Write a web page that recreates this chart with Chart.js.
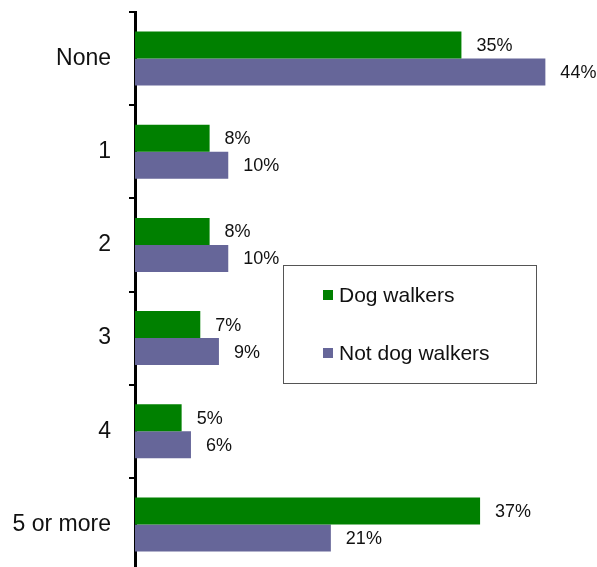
<!DOCTYPE html>
<html>
<head>
<meta charset="utf-8">
<script src="https://cdn.jsdelivr.net/npm/chart.js@4"></script>
<style>
  html, body { margin: 0; padding: 0; background: #fff; overflow: hidden; }
  #wrap { width: 597px; height: 575px; position: relative; }
</style>
</head>
<body>
<div id="wrap"><canvas id="myChart"></canvas></div>
<script>
const categories = ['None', '1', '2', '3', '4', '5 or more'];
const dogWalkers = [35, 8, 8, 7, 5, 37];
const notDogWalkers = [44, 10, 10, 9, 6, 21];
const seriesNames = ['Dog walkers', 'Not dog walkers'];
const seriesColors = ['#008000', '#666699'];

const FONT = '"Liberation Sans", Arial, sans-serif';

// value labels to the right of every bar
const valueLabels = {
  id: 'valueLabels',
  afterDatasetsDraw(chart) {
    const ctx = chart.ctx;
    ctx.save();
    ctx.font = '18px ' + FONT;
    ctx.fillStyle = '#111';
    ctx.textAlign = 'left';
    ctx.textBaseline = 'middle';
    chart.data.datasets.forEach((ds, i) => {
      chart.getDatasetMeta(i).data.forEach((bar, j) => {
        ctx.fillText(ds.data[j] + '%', bar.x + 15, bar.y + 1);
      });
    });
    ctx.restore();
  }
};

// boxed legend sitting inside the plot
const boxLegend = {
  id: 'boxLegend',
  afterDraw(chart, args, opts) {
    const ctx = chart.ctx;
    ctx.save();
    ctx.fillStyle = '#fff';
    ctx.fillRect(opts.x, opts.y, opts.w, opts.h);
    ctx.strokeStyle = '#555';
    ctx.lineWidth = 1;
    ctx.strokeRect(opts.x + 0.5, opts.y + 0.5, opts.w, opts.h);
    ctx.font = '21px ' + FONT;
    ctx.textBaseline = 'middle';
    chart.data.datasets.forEach((ds, i) => {
      const cy = opts.y + 30 + i * 58;
      ctx.fillStyle = ds.backgroundColor;
      ctx.fillRect(opts.x + 40, cy - 5, 10, 10);
      ctx.fillStyle = '#111';
      ctx.fillText(ds.label, opts.x + 56, cy + 1);
    });
    ctx.restore();
  }
};

new Chart(document.getElementById('myChart'), {
  type: 'bar',
  data: {
    labels: categories,
    datasets: [
      { label: seriesNames[0], data: dogWalkers, backgroundColor: seriesColors[0] },
      { label: seriesNames[1], data: notDogWalkers, backgroundColor: seriesColors[1] }
    ]
  },
  options: {
    indexAxis: 'y',
    responsive: true,
    maintainAspectRatio: false,
    animation: false,
    layout: { autoPadding: false, padding: { top: 12, bottom: 4, left: 0, right: 5 } },
    datasets: { bar: { categoryPercentage: 0.58, barPercentage: 1.0 } },
    scales: {
      x: { display: false, min: 0, max: 49 },
      y: {
        z: 1,
        afterFit(scale) {
          scale.width = 135;
          scale.paddingTop = 0;
          scale.paddingBottom = 0;
        },
        border: { display: true, color: '#000', width: 3 },
        grid: { display: true, drawOnChartArea: false, drawTicks: true, tickLength: 6, color: '#000', lineWidth: 2 },
        ticks: { color: '#111', padding: 18, font: { family: FONT, size: 23 } }
      }
    },
    plugins: {
      legend: { display: false },
      tooltip: { enabled: false },
      boxLegend: { x: 283, y: 265, w: 253, h: 118 }
    }
  },
  plugins: [valueLabels, boxLegend]
});
</script>
</body>
</html>
